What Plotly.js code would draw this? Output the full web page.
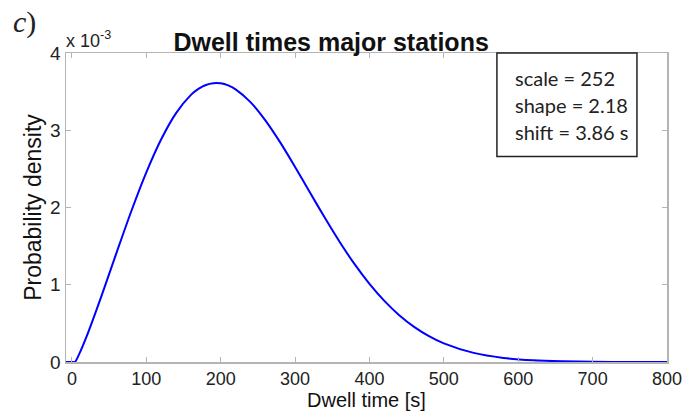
<!DOCTYPE html>
<html><head><meta charset="utf-8">
<script src="https://cdn.plot.ly/plotly-3.0.1.min.js"></script>
<style>body{margin:0;background:#fff}#plot{width:687px;height:413px}</style>
</head><body><div id="plot"></div>
<script>
// Dwell time [s]
const dwellTime = [-8, 0, 3.86, 10, 20, 40, 60, 80, 100, 120, 140, 160, 170, 180, 190, 200, 210, 220, 240, 260, 280, 300, 320, 340, 360, 380, 400, 420, 440, 460, 480, 500, 540, 580, 620, 660, 700, 750, 800];
// Probability density, in units of 10^-3
const densityE3 = [0, 0, 0, 0.108, 0.337, 0.862, 1.416, 1.958, 2.455, 2.883, 3.222, 3.458, 3.535, 3.586, 3.609, 3.607, 3.580, 3.529, 3.364, 3.129, 2.843, 2.525, 2.194, 1.866, 1.553, 1.266, 1.011, 0.791, 0.606, 0.455, 0.335, 0.241, 0.118, 0.053, 0.022, 0.0085, 0.003, 0.0006, 0.0001];
const xTicks = [0, 100, 200, 300, 400, 500, 600, 700, 800];
const yTicks = [0, 1, 2, 3, 4];
const fitLines = ["scale = 252", "shape = 2.18", "shift = 3.86 s"];

const axisCol = '#b4b4b4';
const sans = 'Liberation Sans, Arial, sans-serif';
const tickFont = {family: sans, size: 18, color: '#222'};

const trace = {
  x: dwellTime, y: densityE3, type: 'scatter', mode: 'lines',
  line: {color: '#0000ff', width: 2, shape: 'spline', smoothing: 0.8},
  hoverinfo: 'skip'
};

const annotations = [
  {xref: 'paper', yref: 'paper', x: -0.003, y: 1.0, xanchor: 'left', yanchor: 'bottom',
   text: 'x 10<sup>-3</sup>', showarrow: false, font: {family: sans, size: 18, color: '#222'}},
  {xref: 'paper', yref: 'paper', x: -0.092, y: 1.1, xanchor: 'left', yanchor: 'middle',
   text: '<i>c</i>)', showarrow: false, font: {family: 'Liberation Serif, Times New Roman, serif', size: 30, color: '#222'}},
  {xref: 'paper', yref: 'paper', x: 0.5, y: -0.123, xanchor: 'center', yanchor: 'middle',
   text: 'Dwell time [s]', showarrow: false, font: {family: sans, size: 20, color: '#111'}}
];
fitLines.forEach((t, i) => {
  annotations.push({xref: 'paper', yref: 'paper', x: 0.743, y: 0.92 - i * 0.088,
    xanchor: 'left', yanchor: 'middle', text: t, showarrow: false,
    font: {family: 'Lato, Open Sans, sans-serif', size: 20, color: '#222'}});
});

const layout = {
  width: 687, height: 413,
  margin: {l: 66, r: 20, t: 53, b: 51},
  paper_bgcolor: '#fff', plot_bgcolor: '#fff',
  showlegend: false,
  title: {text: '<b>Dwell times major stations</b>', x: 0.482, xanchor: 'center', y: 0.898, yanchor: 'middle',
          font: {family: sans, size: 25, color: '#111'}},
  xaxis: {range: [-8, 800], tickvals: xTicks, ticktext: xTicks.map(String),
          ticks: 'inside', ticklen: 5, tickcolor: axisCol, showgrid: false, zeroline: false,
          showline: true, linecolor: axisCol, linewidth: 1.5, mirror: 'ticks',
          tickfont: tickFont},
  yaxis: {range: [0, 4], tickvals: yTicks, ticktext: yTicks.map(String),
          ticks: 'inside', ticklen: 5, tickcolor: axisCol, showgrid: false, zeroline: false,
          showline: true, linecolor: axisCol, linewidth: 1.5, mirror: 'ticks',
          tickfont: {family: sans, size: 19, color: '#222'},
          title: {text: 'Probability density', standoff: 2, font: {family: sans, size: 23, color: '#111'}}},
  shapes: [{type: 'rect', xref: 'paper', yref: 'paper', x0: 0.717, x1: 0.950, y0: 0.665, y1: 1.0,
            line: {color: '#222', width: 1.5}, fillcolor: '#fff', layer: 'above'}],
  annotations: annotations
};

Plotly.newPlot('plot', [trace], layout, {displayModeBar: false, staticPlot: true});
</script>
</body></html>
